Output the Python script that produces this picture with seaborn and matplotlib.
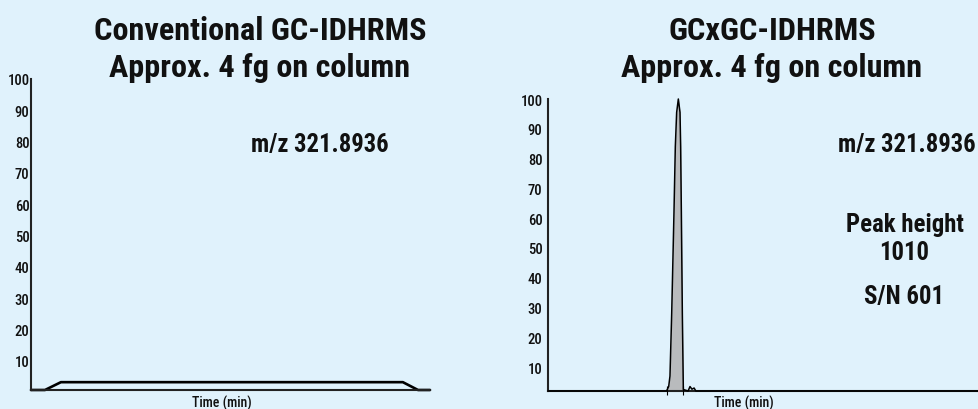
import matplotlib
matplotlib.use("Agg")
import matplotlib.pyplot as plt
import seaborn as sns
import pandas as pd

# ---------------- data ----------------
left_time = [0, 3.5, 7.5, 93.2, 97, 100]
left_signal = [0.7, 0.7, 3.2, 3.2, 0.7, 0.7]

right_time = [0, 27.5, 28.0, 28.3, 28.7, 29.23, 29.54, 29.85, 30.24, 30.63,
              30.78, 30.94, 31.17, 31.4, 32.5, 32.95, 33.4, 33.9, 34.3, 100]
right_signal = [2, 2, 3.5, 7, 28, 62, 84, 95.5, 100, 95.5,
                84, 62, 28, 2.5, 2, 3.5, 2.6, 3.0, 2, 2]
peak_start, peak_end = 1, 13          # indices of the shaded peak
integration_marks = [27.6, 31.3]

y_ticks = [10, 20, 30, 40, 50, 60, 70, 80, 90, 100]
titles = [["Conventional GC-IDHRMS", "Approx. 4 fg on column"],
          ["GCxGC-IDHRMS", "Approx. 4 fg on column"]]
mz_label = "m/z 321.8936"
peak_info = ["Peak height", "1010", "S/N 601"]
x_label = "Time (min)"

# ---------------- style ----------------
BG = "#E0F2FC"
sns.set_theme(style="white")
FONT = ["Roboto Condensed", "Archivo Narrow", "Arial Narrow",
        "PT Sans Narrow", "DejaVu Sans"]
plt.rcParams["font.family"] = FONT
plt.rcParams["figure.facecolor"] = BG
plt.rcParams["axes.facecolor"] = BG

fig = plt.figure(figsize=(9.79, 4.10), dpi=100)
axL = fig.add_axes([31 / 979, 19 / 410, 399 / 979, 311 / 410])
axR = fig.add_axes([548 / 979, 18 / 410, 431 / 979, 292 / 410])

dfL = pd.DataFrame({"t": left_time, "s": left_signal})
dfR = pd.DataFrame({"t": right_time, "s": right_signal})

sns.lineplot(data=dfL, x="t", y="s", ax=axL, sort=False, estimator=None,
             color="black", lw=1.9, clip_on=False)

pk = dfR.iloc[peak_start:peak_end + 1]
axR.fill_between(pk["t"], 2, pk["s"], color="#B9BBBD", lw=0, zorder=2)
sns.lineplot(data=dfR, x="t", y="s", ax=axR, sort=False, estimator=None,
             color="black", lw=1.1, clip_on=False, zorder=3)
axR.vlines(integration_marks, 0.8, 3.6, color="black", lw=0.8, clip_on=False, zorder=4)

for ax, ylo, pad in [(axL, 0.7, 1), (axR, 2, 4)]:
    ax.set_xlim(0, 100)
    ax.set_ylim(ylo, 100)
    ax.set_yticks(y_ticks)
    ax.set_yticklabels([str(v) for v in y_ticks], fontsize=10.5,
                       color="#111111", fontweight="medium")
    ax.set_xticks([])
    ax.set_xlabel("")
    ax.set_ylabel("")
    ax.tick_params(axis="y", length=0, pad=pad)
    for side in ["top", "right"]:
        ax.spines[side].set_visible(False)
    for side in ["left", "bottom"]:
        ax.spines[side].set_color("#222222")
        ax.spines[side].set_linewidth(1.5)

# titles
for cx, (l1, l2) in zip([260 / 979, 772 / 979], titles):
    fig.text(cx, 370 / 410, l1, ha="center", va="baseline", fontsize=23.2,
             fontweight="bold", color="#111111")
    fig.text(cx, 333 / 410, l2, ha="center", va="baseline", fontsize=23.2,
             fontweight="bold", color="#111111")

# m/z labels
fig.text(320 / 979, 258 / 410, mz_label, ha="center", va="baseline",
         fontsize=17.7, fontweight="bold", color="#111111")
fig.text(906.5 / 979, 258 / 410, mz_label, ha="center", va="baseline",
         fontsize=17.7, fontweight="bold", color="#111111")

# peak info
for yb, txt in zip([177.7, 150, 106], peak_info):
    fig.text(904.5 / 979, yb / 410, txt, ha="center", va="baseline",
             fontsize=17.8, fontweight="bold", color="#111111")

# x labels
fig.text(221.5 / 979, 2 / 410, x_label, ha="center", va="baseline",
         fontsize=10, color="#111111", fontweight="medium")
fig.text(744 / 979, 2 / 410, x_label, ha="center", va="baseline",
         fontsize=10, color="#111111", fontweight="medium")

fig.savefig("out.png", dpi=100, facecolor=BG)
